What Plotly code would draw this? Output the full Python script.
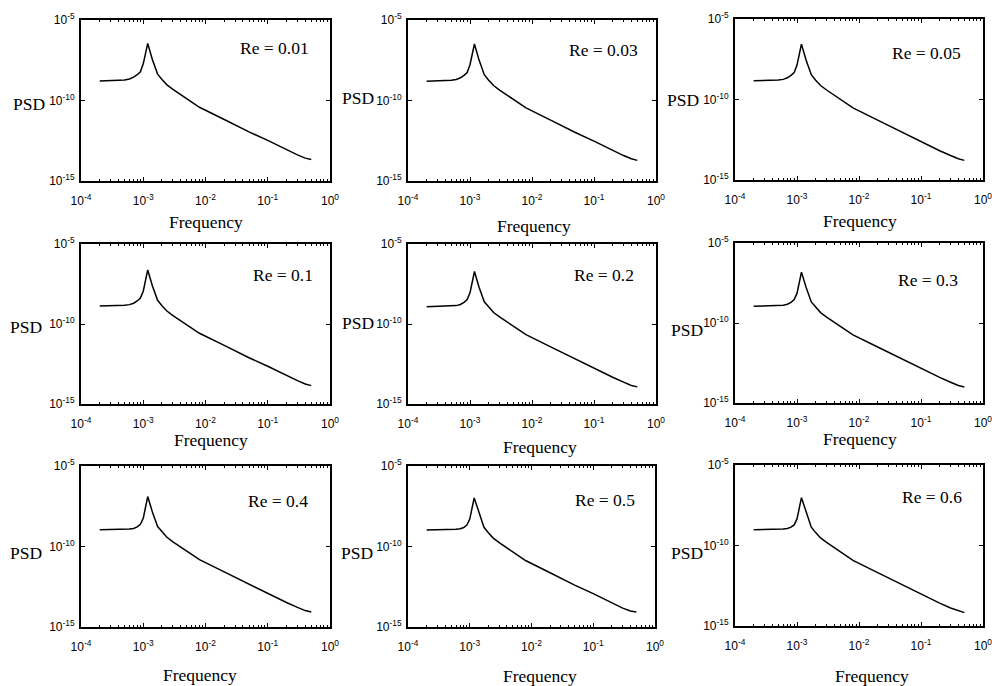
import plotly.graph_objects as go

# ---------------- data ----------------
freq = [2e-4, 4e-4, 5e-4, 6e-4, 7e-4, 8e-4, 9e-4, 1.0e-3, 1.18e-3, 1.4e-3, 1.7e-3,
        2.0e-3, 2.4e-3, 3e-3, 4e-3, 5e-3, 8e-3, 2e-2, 5e-2, 0.1, 0.2, 0.3, 0.4, 0.5]

# log10(PSD) for each Reynolds-number panel
log_psd_re_001 = [-8.79, -8.76, -8.72, -8.66, -8.55, -8.40, -8.22, -7.72, -6.45, -7.45, -8.36,
                  -8.70, -9.03, -9.31, -9.64, -9.90, -10.42, -11.18, -11.95, -12.48, -13.08, -13.38, -13.58, -13.67]
log_psd_re_003 = [-8.80, -8.77, -8.74, -8.69, -8.59, -8.44, -8.26, -7.78, -6.49, -7.49, -8.40,
                  -8.74, -9.07, -9.35, -9.68, -9.94, -10.46, -11.22, -11.99, -12.52, -13.12, -13.42, -13.62, -13.72]
log_psd_re_005 = [-8.84, -8.82, -8.79, -8.75, -8.65, -8.50, -8.32, -7.86, -6.56, -7.55, -8.46,
                  -8.80, -9.13, -9.41, -9.74, -10.00, -10.52, -11.28, -12.05, -12.58, -13.18, -13.48, -13.68, -13.78]
log_psd_re_01 = [-8.88, -8.86, -8.83, -8.79, -8.70, -8.56, -8.38, -7.95, -6.62, -7.61, -8.52,
                 -8.86, -9.19, -9.47, -9.80, -10.06, -10.58, -11.34, -12.11, -12.64, -13.24, -13.54, -13.75, -13.85]
log_psd_re_02 = [-8.92, -8.90, -8.88, -8.85, -8.78, -8.65, -8.47, -8.05, -6.72, -7.70, -8.61,
                 -8.95, -9.28, -9.56, -9.89, -10.15, -10.67, -11.43, -12.20, -12.73, -13.33, -13.63, -13.84, -13.93]
log_psd_re_03 = [-8.96, -8.94, -8.92, -8.89, -8.83, -8.71, -8.54, -8.15, -6.82, -7.77, -8.68,
                 -9.02, -9.35, -9.63, -9.96, -10.22, -10.74, -11.50, -12.27, -12.80, -13.40, -13.70, -13.91, -14.00]
log_psd_re_04 = [-8.96, -8.95, -8.94, -8.92, -8.88, -8.78, -8.62, -8.25, -6.90, -7.85, -8.76,
                 -9.10, -9.43, -9.71, -10.04, -10.30, -10.82, -11.58, -12.35, -12.88, -13.48, -13.78, -13.98, -14.07]
log_psd_re_05 = [-8.97, -8.96, -8.95, -8.93, -8.90, -8.82, -8.67, -8.30, -6.98, -7.90, -8.81,
                 -9.15, -9.48, -9.76, -10.09, -10.35, -10.87, -11.63, -12.40, -12.93, -13.53, -13.83, -14.00, -14.07]
log_psd_re_06 = [-9.02, -9.01, -9.00, -8.98, -8.94, -8.86, -8.72, -8.35, -7.03, -7.95, -8.86,
                 -9.20, -9.53, -9.81, -10.14, -10.40, -10.92, -11.68, -12.45, -12.98, -13.58, -13.88, -14.07, -14.17]

series = [log_psd_re_001, log_psd_re_003, log_psd_re_005,
          log_psd_re_01, log_psd_re_02, log_psd_re_03,
          log_psd_re_04, log_psd_re_05, log_psd_re_06]
re_labels = ["Re = 0.01", "Re = 0.03", "Re = 0.05",
             "Re = 0.1", "Re = 0.2", "Re = 0.3",
             "Re = 0.4", "Re = 0.5", "Re = 0.6"]

x_tickvals = [1e-4, 1e-3, 1e-2, 1e-1, 1e0]
x_ticktext = ["10<sup>-4</sup>", "10<sup>-3</sup>", "10<sup>-2</sup>", "10<sup>-1</sup>", "10<sup>0</sup>"]
y_tickvals = [1e-15, 1e-10, 1e-5]
y_ticktext = ["10<sup>-15</sup>", "10<sup>-10</sup>", "10<sup>-5</sup>"]
x_minor = [m * 10.0 ** k for k in range(-4, 0) for m in range(2, 10)]

# ---------------- layout geometry (window pixels) ----------------
W, H = 992, 686


def px(x):
    return x / W


def py(y):
    return 1 - y / H


boxes = [  # left, top, right, bottom of each plot box
    (81, 20, 330, 181), (408, 20, 656, 181), (735, 19, 983, 180),
    (81, 244, 330, 404), (408, 244, 656, 404), (735, 243, 983, 403),
    (81, 466, 330, 627), (408, 466, 655, 627), (735, 465, 983, 626),
]
psd_pos = [(29, 104), (358, 98), (683, 100),
           (26, 327), (358, 323), (687, 330),
           (26, 553), (357, 553), (687, 553)]
freq_pos = [(206, 222), (534, 226), (860, 221),
            (211, 440), (540, 447), (860, 439),
            (200, 675), (540, 676), (872, 676)]
re_pos = [(274, 48), (603, 50), (926, 53),
          (283, 275), (604, 275), (928, 280),
          (278, 501), (605, 500), (932, 497)]

serif = "Liberation Serif, Times New Roman, serif"
tickfont = dict(family="Liberation Sans Narrow, Arial Narrow, Liberation Sans, Arial", size=12, color="black")

fig = go.Figure()
layout = dict(template="none", width=W, height=H, margin=dict(l=0, r=0, t=0, b=0, pad=0),
              autosize=False, paper_bgcolor="white", plot_bgcolor="white", showlegend=False)
annotations = []

for i, (vals, lab) in enumerate(zip(series, re_labels)):
    n = i + 1
    sx = "" if n == 1 else str(n)
    fig.add_trace(go.Scatter(x=freq, y=[10 ** v for v in vals], mode="lines",
                             line=dict(color="black", width=1.5),
                             xaxis="x" + sx, yaxis="y" + sx, hoverinfo="skip"))
    l, t, r, b = boxes[i]
    axcommon = dict(showline=True, linecolor="black", linewidth=2, mirror="allticks",
                    ticks="inside", ticklen=4, tickwidth=1, tickcolor="black", automargin=False,
                    showgrid=False, zeroline=False, tickfont=tickfont, tickmode="array",
                    ticklabeloverflow="allow")
    layout["xaxis" + sx] = dict(domain=[px(l), px(r)], anchor="y" + sx, type="log",
                                range=[-4, 0], tickvals=x_tickvals, ticktext=x_ticktext,
                                ticklabelstandoff=8,
                                minor=dict(tickvals=x_minor, ticks="inside", ticklen=2,
                                           tickcolor="black", showgrid=False),
                                **axcommon)
    layout["yaxis" + sx] = dict(domain=[py(b), py(t)], anchor="x" + sx, type="log",
                                range=[-15, -5], tickvals=y_tickvals, ticktext=y_ticktext,
                                ticklabelstandoff=2, **axcommon)
    for txt, (ax_, ay_) in (("PSD", psd_pos[i]), ("Frequency", freq_pos[i]), (lab, re_pos[i])):
        annotations.append(dict(text=txt, x=px(ax_), y=py(ay_), xref="paper", yref="paper",
                                xanchor="center", yanchor="middle", showarrow=False,
                                font=dict(family=serif, size=17.5, color="black")))

layout["annotations"] = annotations
fig.update_layout(**layout)
fig.write_html("out.html", config={"displayModeBar": False},
               post_script="document.body.style.margin='0';document.body.style.overflow='hidden';")
